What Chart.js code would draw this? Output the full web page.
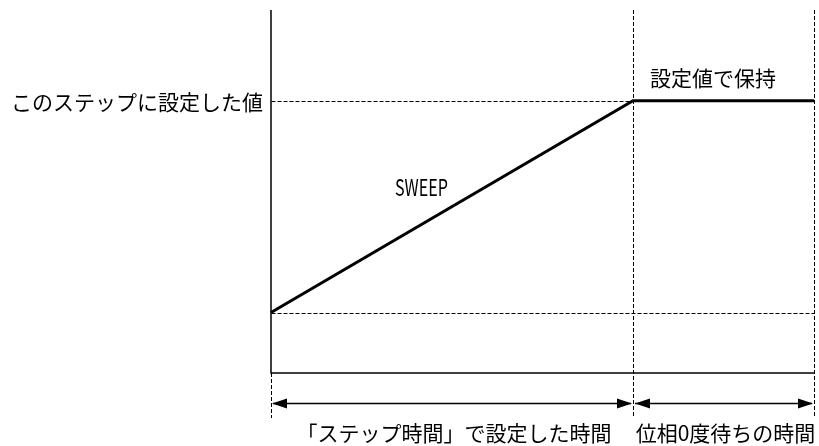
<!DOCTYPE html>
<html>
<head>
<meta charset="utf-8">
<script src="https://cdn.jsdelivr.net/npm/chart.js@4"></script>
<style>
  body { margin: 0; background: #fff; }
</style>
</head>
<body>
<canvas id="sweepChart" width="819" height="446"></canvas>
<script>
// time points (step time = 2 units, phase-0 wait = 1 unit) and output level
const timeX = [0, 2, 3];
const levelY = [20, 90, 90];
const yMax = 120;

// labels
const levelLabel = 'このステップに設定した値';
const holdLabel = '設定値で保持';
const sweepLabel = 'SWEEP';
const spanLabels = ['「ステップ時間」で設定した時間', '位相0度待ちの時間'];

const FONT = '21px "Noto Sans CJK JP", "Noto Sans CJK SC", sans-serif';

function arrowHead(c, x, y, dir) {
    c.beginPath();
    c.moveTo(x, y);
    c.lineTo(x - dir * 15, y - 5);
    c.lineTo(x - dir * 15, y + 5);
    c.closePath();
    c.fill();
}

const guides = {
    id: 'guides',
    beforeDatasetsDraw(chart) {
        const c = chart.ctx;
        const xs = chart.scales.x, ys = chart.scales.y;
        const area = chart.chartArea;
        const x0 = Math.round(xs.getPixelForValue(timeX[0])) + 0.5;
        const x1 = Math.round(xs.getPixelForValue(timeX[1])) + 0.5;
        const x2 = Math.round(xs.getPixelForValue(timeX[2])) + 0.5;
        const yStart = Math.round(ys.getPixelForValue(levelY[0])) + 0.5;
        const ySet = Math.round(ys.getPixelForValue(levelY[1])) + 0.5;
        const yBase = ys.getPixelForValue(0);
        const dimBottom = yBase + 45;

        c.save();
        c.strokeStyle = '#000';
        c.lineWidth = 1;
        c.setLineDash([4, 2]);
        c.beginPath();
        // level guides
        c.moveTo(x0, ySet); c.lineTo(x1, ySet);
        c.moveTo(x0, yStart); c.lineTo(x2, yStart);
        // time guides
        c.moveTo(x1, area.top); c.lineTo(x1, dimBottom);
        c.moveTo(x2, area.top); c.lineTo(x2, dimBottom);
        c.moveTo(x0, yBase); c.lineTo(x0, dimBottom);
        c.stroke();

        // axes
        c.setLineDash([]);
        c.lineWidth = 1.5;
        c.beginPath();
        c.moveTo(x0 - 0.5, area.top);
        c.lineTo(x0 - 0.5, yBase);
        c.lineTo(x2, yBase);
        c.stroke();
        c.restore();
    },
    afterDatasetsDraw(chart) {
        const c = chart.ctx;
        const xs = chart.scales.x, ys = chart.scales.y;
        const x0 = xs.getPixelForValue(timeX[0]);
        const x1 = xs.getPixelForValue(timeX[1]);
        const x2 = xs.getPixelForValue(timeX[2]);
        const ySet = ys.getPixelForValue(levelY[1]);
        const yBase = ys.getPixelForValue(0);
        const yDim = yBase + 30.5;

        c.save();
        c.fillStyle = '#000';
        c.strokeStyle = '#000';
        c.lineWidth = 1.5;

        // dimension arrows
        c.beginPath();
        c.moveTo(x0 + 2, yDim); c.lineTo(x1 - 2, yDim);
        c.moveTo(x1 + 2, yDim); c.lineTo(x2 - 2, yDim);
        c.stroke();
        arrowHead(c, x0 + 1, yDim, -1);
        arrowHead(c, x1 - 1, yDim, 1);
        arrowHead(c, x1 + 2, yDim, -1);
        arrowHead(c, x2 - 1, yDim, 1);

        // texts
        c.font = FONT;
        c.textBaseline = 'middle';
        c.textAlign = 'right';
        c.fillText(levelLabel, x0 - 8, ySet + 1);
        c.textAlign = 'left';
        c.fillText(holdLabel, x1 + 17, ySet - 23);
        c.font = '23px "Noto Sans CJK JP", sans-serif';
        c.fillText(sweepLabel, 395, 187, 53);
        c.font = FONT;
        c.textAlign = 'center';
        c.fillText(spanLabels[0], (x0 + x1) / 2 + 2, yBase + 60);
        c.fillText(spanLabels[1], (x1 + x2) / 2 + 2, yBase + 60);
        c.restore();
    }
};

new Chart(document.getElementById('sweepChart'), {
    type: 'line',
    data: {
        datasets: [{
            data: timeX.map((t, i) => ({ x: t, y: levelY[i] })),
            borderColor: '#000',
            borderWidth: 3,
            pointRadius: 0,
            tension: 0,
            clip: false
        }]
    },
    options: {
        responsive: false,
        animation: false,
        devicePixelRatio: 1,
        layout: {
            padding: { left: 271, right: 5, top: 10, bottom: 73 }
        },
        scales: {
            x: { type: 'linear', min: 0, max: timeX[2], display: false },
            y: { min: 0, max: yMax, display: false }
        },
        plugins: {
            legend: { display: false },
            tooltip: { enabled: false }
        }
    },
    plugins: [guides]
});
</script>
</body>
</html>
